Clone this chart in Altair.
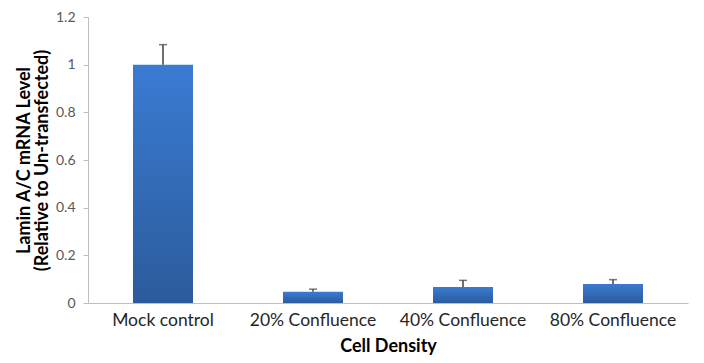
import altair as alt
import pandas as pd

categories = ["Mock control", "20% Confluence", "40% Confluence", "80% Confluence"]
values = [1.0, 0.047, 0.067, 0.080]
errors = [0.084, 0.011, 0.028, 0.018]

df = pd.DataFrame({"cat": categories, "val": values, "err": errors})
df["top"] = df["val"] + df["err"]

FONT = "Lato"

x = alt.X("cat:N", sort=categories, title="Cell Density",
          scale=alt.Scale(paddingInner=0.6, paddingOuter=0.3),
          axis=alt.Axis(labelAngle=0, labelFontSize=17.5, labelColor="#262626",
                        labelFont=FONT, ticks=False, domainColor="#bfbfbf",
                        labelPadding=8, titleFontSize=18, titleFont=FONT,
                        titleFontWeight="bold", titleColor="#000000", titlePadding=9))
y = alt.Y("val:Q", title=["Lamin A/C mRNA Level", "(Relative to Un-transfected)"],
          scale=alt.Scale(domain=[0, 1.2], nice=False),
          axis=alt.Axis(values=[0, 0.2, 0.4, 0.6, 0.8, 1.0, 1.2], format="~g",
                        grid=False, labelFontSize=14, labelColor="#595959",
                        labelFont=FONT, tickColor="#bfbfbf", tickSize=5,
                        domainColor="#bfbfbf", labelPadding=8,
                        titleFontSize=18, titleFont=FONT, titleFontWeight="bold",
                        titleColor="#000000", titlePadding=4, titleLineHeight=18))

grad = alt.LinearGradient(gradient="linear", x1=0, y1=0, x2=0, y2=1,
                          stops=[alt.GradientStop(color="#3a7bd2", offset=0),
                                 alt.GradientStop(color="#2c5b9c", offset=1)])

bars = alt.Chart(df).mark_bar(color=grad).encode(x=x, y=y)
rule = alt.Chart(df).mark_rule(color="#404040", strokeWidth=1.5).encode(
    x=alt.X("cat:N", sort=categories), y="val:Q", y2="top:Q")
cap = alt.Chart(df).mark_tick(color="#404040", size=8, thickness=1.5).encode(
    x=alt.X("cat:N", sort=categories), y="top:Q")

chart = (bars + rule + cap).properties(
    width=600, height=286,
    autosize=alt.AutoSizeParams(type="none"),
    padding={"left": 80, "top": 9, "right": 8, "bottom": 52},
    background="white",
).configure_view(stroke=None)

chart.save("out.html", embed_options={"renderer": "svg", "actions": False})
